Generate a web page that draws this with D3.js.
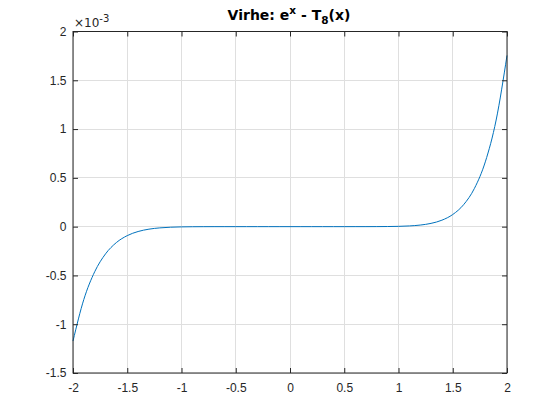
<!DOCTYPE html>
<html><head><meta charset="utf-8">
<script src="https://cdn.jsdelivr.net/npm/d3@7"></script>
<style>body{margin:0;background:#fff}svg{display:block}</style>
</head><body>
<script>
// x positions and error values (units of 1e-3)
const xValues = [-2,-1.9,-1.8,-1.7,-1.6,-1.5,-1.4,-1.3,-1.2,-1.1,-1,-0.9,-0.8,-0.7,-0.6,-0.5,-0.4,-0.3,-0.2,-0.1,0,0.1,0.2,0.3,0.4,0.5,0.6,0.7,0.8,0.9,1,1.1,1.2,1.3,1.4,1.5,1.6,1.7,1.8,1.9,2];
const errValues = [-1.1726,-0.74545,-0.46222,-0.27875,-0.16295,-0.09197,-0.049874,-0.025829,-0.012682,-0.005849,-0.002503,-0.000979,-0.000342,-0.000104,-0.000026,-0.000005,0,0,0,0,0,0,0,0,0,0.000006,0.00003,0.00012,0.000401,0.001172,0.003059,0.007291,0.016132,0.033525,0.066054,0.12430,0.22475,0.39234,0.66392,1.0928,1.7545];
const xTicks = [-2,-1.5,-1,-0.5,0,0.5,1,1.5,2];
const yTicks = [-1.5,-1,-0.5,0,0.5,1,1.5,2];
const xTickLabels = ["-2","-1.5","-1","-0.5","0","0.5","1","1.5","2"];
const yTickLabels = ["-1.5","-1","-0.5","0","0.5","1","1.5","2"];

const W=560,H=420, L=73, R=507, T=31.5, B=373;
const svg=d3.select("body").append("svg").attr("width",W).attr("height",H);
const x=d3.scaleLinear().domain([-2,2]).range([L,R]);
const y=d3.scaleLinear().domain([-1.5,2]).range([B,T]);
const font="DejaVu Sans, sans-serif";

// grid
svg.append("g").selectAll("line").data(xTicks).join("line")
 .attr("x1",d=>x(d)).attr("x2",d=>x(d)).attr("y1",T).attr("y2",B)
 .attr("stroke","#dfdfdf").attr("stroke-width",1).attr("shape-rendering","crispEdges");
svg.append("g").selectAll("line").data(yTicks).join("line")
 .attr("y1",d=>y(d)).attr("y2",d=>y(d)).attr("x1",L).attr("x2",R)
 .attr("stroke","#dfdfdf").attr("stroke-width",1).attr("shape-rendering","crispEdges");

// curve
const line=d3.line().x((d,i)=>x(xValues[i])).y(d=>y(d)).curve(d3.curveMonotoneX);
svg.append("path").attr("d",line(errValues)).attr("fill","none")
 .attr("stroke","#0072bd").attr("stroke-width",1);

// axes
const ax=svg.append("g").attr("font-family",font);
const tl=5;
function mk(g){g.selectAll(".domain").remove();}
ax.append("g").attr("transform",`translate(0,${B})`)
 .call(d3.axisBottom(x).tickValues(xTicks).tickSizeInner(-tl).tickSizeOuter(0).tickPadding(10.5).tickFormat((d,i)=>xTickLabels[i]))
 .call(mk);
ax.append("g").attr("transform",`translate(0,${T})`)
 .call(d3.axisTop(x).tickValues(xTicks).tickSizeInner(-tl).tickSizeOuter(0).tickFormat(""))
 .call(mk);
ax.append("g").attr("transform",`translate(${L},0)`)
 .call(d3.axisLeft(y).tickValues(yTicks).tickSizeInner(-tl).tickSizeOuter(0).tickPadding(6.5).tickFormat((d,i)=>yTickLabels[i]))
 .call(mk);
ax.append("g").attr("transform",`translate(${R},0)`)
 .call(d3.axisRight(y).tickValues(yTicks).tickSizeInner(-tl).tickSizeOuter(0).tickFormat(""))
 .call(mk);
ax.selectAll(".tick line").attr("stroke","#262626");
ax.selectAll(".tick text").attr("fill","#262626").attr("font-size","12px");
// box
svg.append("rect").attr("x",L).attr("y",T).attr("width",R-L).attr("height",B-T)
 .attr("fill","none").attr("stroke","#262626").attr("stroke-width",1);

// exponent label
const ex=svg.append("text").attr("x",L+1).attr("y",T-4.5).attr("font-family",font)
 .attr("font-size","12px").attr("fill","#262626");
ex.append("tspan").text("×10");
ex.append("tspan").attr("dy",-5).attr("font-size","10px").text("-3");

// title
const t=svg.append("text").attr("x",(L+R)/2 - 1).attr("y",19.5).attr("text-anchor","middle")
 .attr("font-family",font).attr("font-weight","bold").attr("font-size","14px").attr("fill","#000");
t.append("tspan").text("Virhe: e");
t.append("tspan").attr("dy",-5.5).attr("font-size","10.5px").text("x");
t.append("tspan").attr("dy",5.5).text(" - T");
t.append("tspan").attr("dy",4.5).attr("font-size","10.5px").text("8");
t.append("tspan").attr("dy",-4.5).text("(x)");
</script>
</body></html>
